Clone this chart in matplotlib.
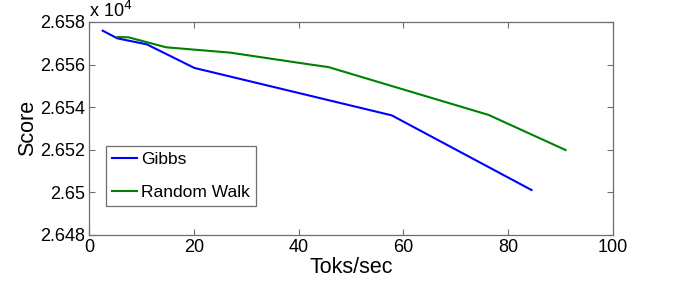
import matplotlib
matplotlib.use('Agg')
import matplotlib.pyplot as plt
from matplotlib.ticker import FuncFormatter

# values (scores in units of 10^4)
gibbs_speed = [2.6, 5.4, 11.0, 20.1, 57.8, 84.5]
gibbs_score = [2.65759, 2.65723, 2.65695, 2.65584, 2.65361, 2.65010]

rw_speed = [5.4, 7.5, 14.7, 26.9, 42.8, 45.7, 76.3, 91.0]
rw_score = [2.65729, 2.65728, 2.65681, 2.65656, 2.65598, 2.65588, 2.65363, 2.65198]

xticks = [0, 20, 40, 60, 80, 100]
yticks = [2.648, 2.650, 2.652, 2.654, 2.656, 2.658]

plt.rcParams['font.family'] = ['Liberation Sans', 'DejaVu Sans']

fig = plt.figure(figsize=(6.75, 2.97), dpi=100)
ax = fig.add_axes([0.132, 0.2098, 0.7757, 0.7162])

ax.plot(gibbs_speed, gibbs_score, color='#0000ff', lw=1.5, label='Gibbs')
ax.plot(rw_speed, rw_score, color='#008000', lw=1.5, label='Random Walk')

ax.set_xlim(0, 100)
ax.set_ylim(2.648, 2.658)
ax.set_xticks(xticks)
ax.set_yticks(yticks)
ax.yaxis.set_major_formatter(FuncFormatter(lambda v, p: f'{v:g}'))
ax.tick_params(direction='in', length=4, width=0.8, color='#6e6e6e',
               labelsize=13, top=True, right=True, pad=3)
for s in ax.spines.values():
    s.set_color('#6e6e6e')
    s.set_linewidth(0.9)

ax.set_xlabel('Toks/sec', fontsize=15.5, labelpad=1)
ax.set_ylabel('Score', fontsize=15.5, labelpad=1)
ax.text(0.0, 1.005, r'x 10$^4$', transform=ax.transAxes, fontsize=13,
        ha='left', va='bottom')

leg = ax.legend(loc='lower left', bbox_to_anchor=(0.032, 0.135), fontsize=12.5,
                fancybox=False, framealpha=1, edgecolor='#6e6e6e',
                handlelength=1.45, handletextpad=0.25, labelspacing=1.0,
                borderpad=0.35, borderaxespad=0)
leg.get_frame().set_linewidth(0.9)

fig.savefig('out.png', dpi=100)
